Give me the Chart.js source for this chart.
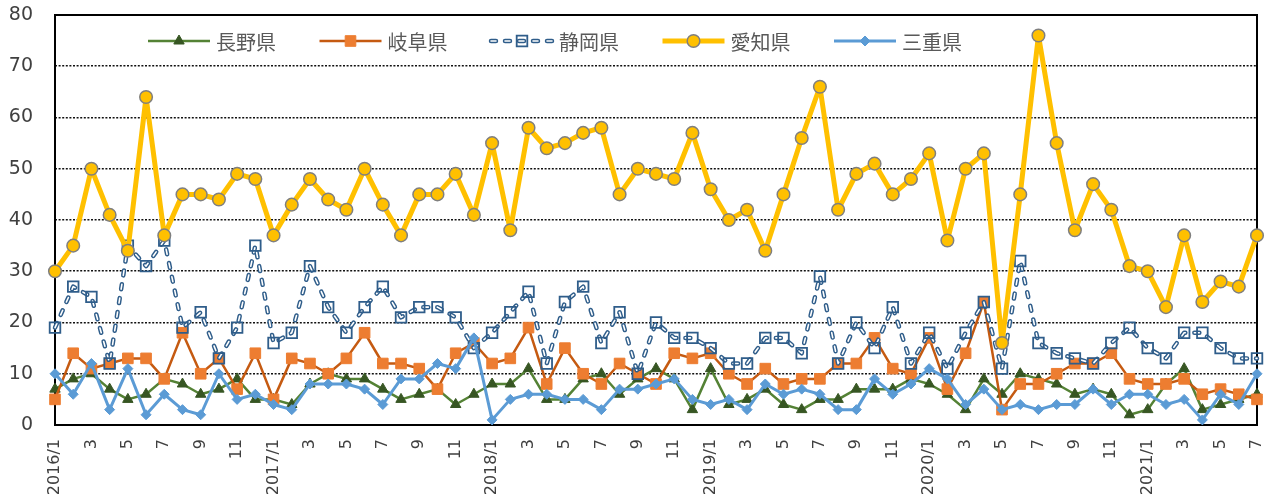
<!DOCTYPE html>
<html lang="ja">
<head>
<meta charset="utf-8">
<script src="https://cdn.jsdelivr.net/npm/chart.js"></script>
<style>
  html, body { margin: 0; padding: 0; background: #fff; }
  #wrap { width: 1272px; height: 504px; }
</style>
</head>
<body>
<div id="wrap"><canvas id="grafico" width="1272" height="504"></canvas></div>
<script>
// monthly counts, 2016/1 .. 2021/7
const years = [2016, 2017, 2018, 2019, 2020, 2021];
const lastMonth = 7;
const months = [];
years.forEach(y => {
  for (let m = 1; m <= 12; m++) {
    if (y === years[years.length - 1] && m > lastMonth) break;
    months.push(m === 1 ? y + '/1' : String(m));
  }
});

const nagano = [
  7, 9, 10, 7, 5, 6, 9, 8, 6, 7, 9, 5,
  5, 4, 8, 10, 9, 9, 7, 5, 6, 7, 4, 6,
  8, 8, 11, 5, 5, 9, 10, 6, 9, 11, 9, 3,
  11, 4, 5, 7, 4, 3, 5, 5, 7, 7, 7, 9,
  8, 6, 3, 9, 6, 10, 9, 8, 6, 7, 6, 2,
  3, 8, 11, 3, 4, 5, 6
];
const gifu = [
  5, 14, 11, 12, 13, 13, 9, 18, 10, 13, 7, 14,
  5, 13, 12, 10, 13, 18, 12, 12, 11, 7, 14, 16,
  12, 13, 19, 8, 15, 10, 8, 12, 10, 8, 14, 13,
  14, 10, 8, 11, 8, 9, 9, 12, 12, 17, 11, 10,
  17, 7, 14, 24, 3, 8, 8, 10, 12, 12, 14, 9,
  8, 8, 9, 6, 7, 6, 5
];
const shizuoka = [
  19, 27, 25, 12, 35, 31, 36, 19, 22, 13, 19, 35,
  16, 18, 31, 23, 18, 23, 27, 21, 23, 23, 21, 15,
  18, 22, 26, 12, 24, 27, 16, 22, 10, 20, 17, 17,
  15, 12, 12, 17, 17, 14, 29, 12, 20, 15, 23, 12,
  18, 11, 18, 24, 11, 32, 16, 14, 13, 12, 16, 19,
  15, 13, 18, 18, 15, 13, 13
];
const aichi = [
  30, 35, 50, 41, 34, 64, 37, 45, 45, 44, 49, 48,
  37, 43, 48, 44, 42, 50, 43, 37, 45, 45, 49, 41,
  55, 38, 58, 54, 55, 57, 58, 45, 50, 49, 48, 57,
  46, 40, 42, 34, 45, 56, 66, 42, 49, 51, 45, 48,
  53, 36, 50, 53, 16, 45, 76, 55, 38, 47, 42, 31,
  30, 23, 37, 24, 28, 27, 37
];
const mie = [
  10, 6, 12, 3, 11, 2, 6, 3, 2, 10, 5, 6,
  4, 3, 8, 8, 8, 7, 4, 9, 9, 12, 11, 17,
  1, 5, 6, 6, 5, 5, 3, 7, 7, 8, 9, 5,
  4, 5, 3, 8, 6, 7, 6, 3, 3, 9, 6, 8,
  11, 9, 4, 7, 3, 4, 3, 4, 4, 7, 4, 6,
  6, 4, 5, 1, 6, 4, 10
];

const yMin = 0, yMax = 80, yStep = 10;

const tickFont = { family: '"DejaVu Sans", sans-serif' };
const blueDark = '#2F5D8A';
const shizuokaDash = [5, 9];

const datasets = [
  { label: '長野県', data: nagano, borderColor: '#548235', borderWidth: 2.5,
    pointStyle: 'triangle', pointRadius: 6, pointBackgroundColor: '#375623',
    pointBorderColor: '#375623', pointBorderWidth: 1, order: 5 },
  { label: '岐阜県', data: gifu, borderColor: '#C55A11', borderWidth: 2.5,
    pointStyle: 'rect', pointRadius: 7.5, pointBackgroundColor: '#ED7D31',
    pointBorderColor: '#ED7D31', pointBorderWidth: 1, order: 4 },
  // 静岡県: thick dark dash with a thin white dash on top gives hollow dashes
  { label: '静岡県', data: shizuoka, borderColor: blueDark, borderWidth: 4.5,
    borderDash: shizuokaDash, borderCapStyle: 'round', pointRadius: 0, order: 3.3 },
  { label: '静岡県', data: shizuoka, borderColor: '#fff', borderWidth: 1.6,
    borderDash: shizuokaDash, borderCapStyle: 'round', pointRadius: 0, order: 3.2 },
  { label: '静岡県', data: shizuoka, showLine: false, pointStyle: 'rect', pointRadius: 7.5,
    pointBackgroundColor: 'rgba(255,255,255,0)', pointBorderColor: blueDark,
    pointBorderWidth: 1.8, order: 3.1 },
  { label: '愛知県', data: aichi, borderColor: '#FFC000', borderWidth: 5,
    pointStyle: 'circle', pointRadius: 6.3, pointBackgroundColor: '#FFC000',
    pointBorderColor: '#7F7F7F', pointBorderWidth: 1.5, order: 2 },
  { label: '三重県', data: mie, borderColor: '#5B9BD5', borderWidth: 3,
    pointStyle: 'rectRot', pointRadius: 5, pointBackgroundColor: '#5B9BD5',
    pointBorderColor: '#5B9BD5', pointBorderWidth: 1, order: 1 }
];
datasets.forEach(d => {
  d.clip = false;
  d.tension = 0;
  d.borderJoinStyle = 'round';
});

const legendEntries = [
  { label: '長野県', parts: [0] },
  { label: '岐阜県', parts: [1] },
  { label: '静岡県', parts: [2, 3, 4] },
  { label: '愛知県', parts: [5] },
  { label: '三重県', parts: [6] }
];

// black frame round the plot area, under the markers
const frame = {
  id: 'frame',
  beforeDatasetsDraw(chart) {
    const { ctx, chartArea: a } = chart;
    ctx.save();
    ctx.strokeStyle = '#000';
    ctx.lineWidth = 2;
    ctx.strokeRect(a.left, a.top, a.right - a.left, a.bottom - a.top);
    ctx.restore();
  }
};

// legend sitting inside the top of the plot
const innerLegend = {
  id: 'innerLegend',
  afterDraw(chart) {
    const ctx = chart.ctx;
    const a = chart.chartArea;
    const y = a.top + 26;
    const sample = 62;
    legendEntries.forEach((entry, i) => {
      const x0 = a.left + 93 + i * 171.5;
      entry.parts.forEach(k => {
        const ds = chart.data.datasets[k];
        ctx.save();
        if (ds.showLine !== false) {
          ctx.beginPath();
          ctx.strokeStyle = ds.borderColor;
          ctx.lineWidth = ds.borderWidth;
          ctx.lineCap = ds.borderCapStyle || 'butt';
          ctx.setLineDash(ds.borderDash || []);
          ctx.moveTo(x0, y);
          ctx.lineTo(x0 + sample, y);
          ctx.stroke();
        }
        if (ds.pointRadius > 0) {
          ctx.setLineDash([]);
          ctx.fillStyle = ds.pointBackgroundColor;
          ctx.strokeStyle = ds.pointBorderColor;
          ctx.lineWidth = ds.pointBorderWidth;
          Chart.helpers.drawPoint(ctx, {
            pointStyle: ds.pointStyle, radius: ds.pointRadius,
            rotation: 0, borderWidth: ds.pointBorderWidth
          }, x0 + sample / 2, y);
        }
        ctx.restore();
      });
      ctx.save();
      ctx.fillStyle = '#595959';
      ctx.font = '20px "Noto Sans CJK JP", sans-serif';
      ctx.textBaseline = 'middle';
      ctx.textAlign = 'left';
      ctx.fillText(entry.label, x0 + sample + 6, y + 1);
      ctx.restore();
    });
  }
};

new Chart(document.getElementById('grafico'), {
  type: 'line',
  data: { labels: months, datasets: datasets },
  options: {
    responsive: false,
    animation: false,
    events: [],
    layout: { padding: { top: 15, right: 15, left: 0, bottom: 0 } },
    plugins: { legend: { display: false }, tooltip: { enabled: false } },
    scales: {
      x: {
        offset: false,
        grid: { display: false, drawTicks: false },
        border: { display: false },
        ticks: {
          autoSkip: false, minRotation: 90, maxRotation: 90, padding: 14,
          color: '#404040', font: Object.assign({ size: 16 }, tickFont),
          callback(v, i) { return i % 2 === 0 ? this.getLabelForValue(v) : ''; }
        },
        afterFit(s) {
          s.height = 79;
          s.paddingLeft = 0;
          s.paddingRight = 0;
        }
      },
      y: {
        min: yMin, max: yMax,
        grid: { color: '#111', lineWidth: 1.6, drawTicks: false },
        border: { display: false, dash: [2, 1.6] },
        ticks: {
          stepSize: yStep, padding: 22,
          color: '#404040', font: Object.assign({ size: 19 }, tickFont)
        },
        afterFit(s) {
          s.width = 55;
          s.paddingTop = 0;
          s.paddingBottom = 0;
        }
      }
    }
  },
  plugins: [frame, innerLegend]
});
</script>
</body>
</html>
